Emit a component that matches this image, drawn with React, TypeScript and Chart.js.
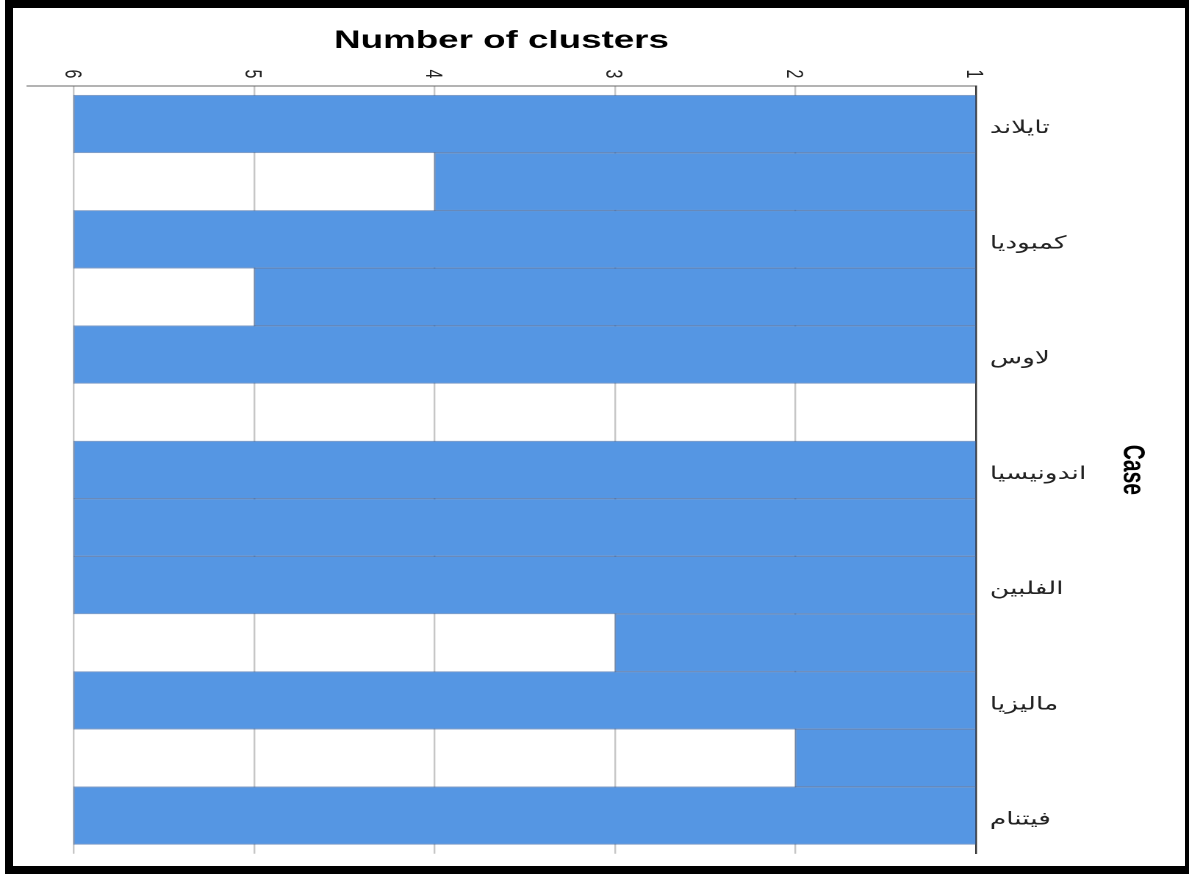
import React, { useEffect, useRef } from 'react';
import { Chart, registerables } from 'chart.js';

Chart.register(...registerables);

// ---- data ----
const caseLabels = ['تايلاند', '', 'كمبوديا', '', 'لاوس', '', 'اندونيسيا', '', 'الفلبين', '', 'ماليزيا', '', 'فيتنام'];
const clusterExtent = [6, 4, 6, 5, 6, 1, 6, 6, 6, 3, 6, 2, 6];
const clusterTicks = [1, 2, 3, 4, 5, 6];
const xTitle = 'Number of clusters';
const yTitle = 'Case';

// ---- layout ----
const CW = 809;
const CH = 874;
const STRETCH = 1189 / CW;
const FONT = 'Arial, "Liberation Sans", "DejaVu Sans", sans-serif';

export default function App() {
  const ref = useRef<HTMLCanvasElement>(null);

  useEffect(() => {
    const canvas = ref.current;
    if (!canvas) return;
    Chart.defaults.font.family = FONT;

    const rows = clusterExtent
      .map((v, i) => ({ y: i, x: [1, v] }))
      .filter((d) => d.x[1] > 1);

    const rotatedTicks = {
      id: 'rotatedTicks',
      afterDraw(chart: any) {
        const xs = chart.scales.x;
        const ctx = chart.ctx;
        ctx.save();
        ctx.fillStyle = '#222';
        ctx.font = '16px ' + FONT;
        ctx.textAlign = 'center';
        ctx.textBaseline = 'middle';
        xs.ticks.forEach((t: any) => {
          const px = xs.getPixelForValue(t.value);
          ctx.save();
          ctx.translate(px - 1.5, 74);
          ctx.rotate(Math.PI / 2);
          ctx.fillText(String(t.value), 0, 0);
          ctx.restore();
        });
        ctx.restore();
      },
    };

    const chart = new Chart(canvas, {
      type: 'bar',
      data: {
        datasets: [
          {
            data: rows as any,
            backgroundColor: '#5596e3',
            borderColor: 'rgba(50,95,160,0.6)',
            borderWidth: 1,
            borderSkipped: false,
            categoryPercentage: 1,
            barPercentage: 1,
          },
        ],
      },
      options: {
        indexAxis: 'y',
        animation: false,
        responsive: false,
        devicePixelRatio: 2,
        layout: { padding: { left: 18.4, top: 0, right: 0, bottom: 7 } },
        plugins: {
          legend: { display: false },
          tooltip: { enabled: false },
        },
        scales: {
          x: {
            type: 'linear',
            position: 'top',
            reverse: true,
            offset: false,
            min: 1,
            max: 6.26,
            afterBuildTicks: (s: any) => {
              s.ticks = clusterTicks.map((v) => ({ value: v }));
            },
            afterFit: (s: any) => {
              s.height = 86;
            },
            ticks: { display: false },
            grid: { color: '#c6c6c6', lineWidth: 1.2, drawTicks: false },
            border: { color: '#666', width: 1 },
            title: {
              display: true,
              text: xTitle,
              color: '#000',
              font: { size: 25, weight: 'bold', family: FONT },
              padding: { top: 26, bottom: 0 },
            },
          },
          y: {
            type: 'linear',
            position: 'right',
            reverse: true,
            offset: false,
            min: -0.66,
            max: 12.66,
            afterBuildTicks: (s: any) => {
              s.ticks = caseLabels
                .map((l, i) => ({ value: i, label: l }))
                .filter((t) => t.label);
            },
            afterFit: (s: any) => {
              s.width = 145;
            },
            ticks: {
              autoSkip: false,
              padding: 9.5,
              labelOffset: 4,
              color: '#222',
              font: { size: 18, family: FONT },
              callback: (v: any) => caseLabels[v] ?? '',
            },
            grid: { display: false, drawTicks: false },
            border: { display: true, color: '#333', width: 1.2 },
            title: {
              display: true,
              text: yTitle,
              color: '#000',
              font: { size: 21, weight: 'bold', family: FONT },
              padding: { top: 26, bottom: 0 },
            },
          },
        },
      } as any,
      plugins: [rotatedTicks],
    });
    return () => chart.destroy();
  }, []);

  return (
    <div style={{ position: 'fixed', left: 0, top: 0, width: 1189, height: 874, overflow: 'hidden', background: '#fff' }}>
      <div style={{ position: 'absolute', left: 0, top: 0, transform: `scaleX(${STRETCH})`, transformOrigin: '0 0' }}>
        <canvas ref={ref} width={CW} height={CH} />
      </div>
      <div
        style={{
          position: 'absolute',
          left: 5,
          top: 0,
          width: 1188,
          height: 874,
          border: '8px solid #000',
          boxSizing: 'border-box',
          pointerEvents: 'none',
        }}
      />
    </div>
  );
}
